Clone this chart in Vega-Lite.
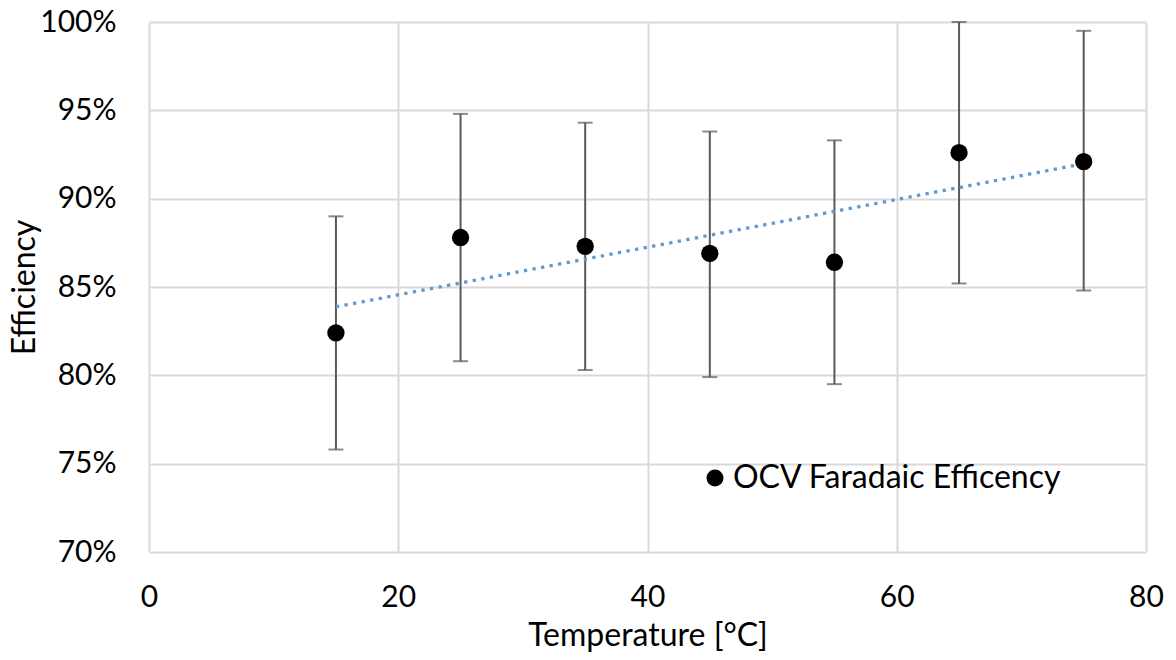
{
  "$schema": "https://vega.github.io/schema/vega-lite/v6.json",
  "width": 997,
  "height": 530,
  "autosize": {"type": "none"},
  "padding": {"left": 149, "top": 22, "right": 30, "bottom": 108},
  "background": "white",
  "config": {
    "font": "Lato",
    "view": {"stroke": null},
    "axis": {
      "labelFont": "Lato",
      "titleFont": "Lato",
      "labelFontSize": 30,
      "titleFontSize": 32,
      "labelColor": "#000000",
      "titleColor": "#000000",
      "titleFontWeight": "normal",
      "gridColor": "#d9d9d9",
      "gridWidth": 2,
      "domain": false,
      "ticks": false,
      "labelFlush": false
    }
  },
  "data": {
    "values": [
      {"temp": 15, "eff": 0.824, "lo": 0.758, "hi": 0.890, "series": "OCV Faradaic Efficency"},
      {"temp": 25, "eff": 0.878, "lo": 0.808, "hi": 0.948, "series": "OCV Faradaic Efficency"},
      {"temp": 35, "eff": 0.873, "lo": 0.803, "hi": 0.943, "series": "OCV Faradaic Efficency"},
      {"temp": 45, "eff": 0.869, "lo": 0.799, "hi": 0.938, "series": "OCV Faradaic Efficency"},
      {"temp": 55, "eff": 0.864, "lo": 0.795, "hi": 0.933, "series": "OCV Faradaic Efficency"},
      {"temp": 65, "eff": 0.926, "lo": 0.852, "hi": 1.000, "series": "OCV Faradaic Efficency"},
      {"temp": 75, "eff": 0.921, "lo": 0.848, "hi": 0.995, "series": "OCV Faradaic Efficency"}
    ]
  },
  "encoding": {
    "x": {
      "field": "temp",
      "type": "quantitative",
      "scale": {"domain": [0, 80], "nice": false, "zero": false},
      "axis": {"values": [0, 20, 40, 60, 80], "title": "Temperature [°C]", "labelPadding": 30, "titlePadding": 8}
    }
  },
  "layer": [
    {
      "mark": {"type": "rule", "color": "#595959", "strokeWidth": 2},
      "encoding": {
        "y": {
          "field": "lo",
          "type": "quantitative",
          "scale": {"domain": [0.7, 1.0], "nice": false, "zero": false},
          "axis": {"values": [0.7, 0.75, 0.8, 0.85, 0.9, 0.95, 1.0], "format": ".0%", "title": "Efficiency", "labelPadding": 33, "titlePadding": -2}
        },
        "y2": {"field": "hi"}
      }
    },
    {
      "mark": {"type": "tick", "orient": "horizontal", "color": "#595959", "size": 15, "thickness": 2},
      "encoding": {"y": {"field": "lo", "type": "quantitative"}}
    },
    {
      "mark": {"type": "tick", "orient": "horizontal", "color": "#595959", "size": 15, "thickness": 2},
      "encoding": {"y": {"field": "hi", "type": "quantitative"}}
    },
    {
      "transform": [{"regression": "eff", "on": "temp"}],
      "mark": {"type": "line", "color": "#5b9bd5", "strokeWidth": 3.3, "strokeDash": [3.3, 5.4]},
      "encoding": {"y": {"field": "eff", "type": "quantitative"}}
    },
    {
      "mark": {"type": "point", "filled": true, "shape": "circle", "size": 300, "opacity": 1},
      "encoding": {
        "y": {"field": "eff", "type": "quantitative"},
        "color": {
          "field": "series",
          "type": "nominal",
          "scale": {"range": ["#000000"]},
          "legend": {
            "title": null,
            "orient": "none",
            "legendX": 550,
            "legendY": 440,
            "labelFont": "Lato",
            "labelFontSize": 32,
            "labelColor": "#000000",
            "labelOffset": 2,
            "symbolSize": 290,
            "symbolType": "circle",
            "symbolStrokeWidth": 0,
            "labelLimit": 500,
            "symbolOffset": 0
          }
        }
      }
    }
  ]
}
